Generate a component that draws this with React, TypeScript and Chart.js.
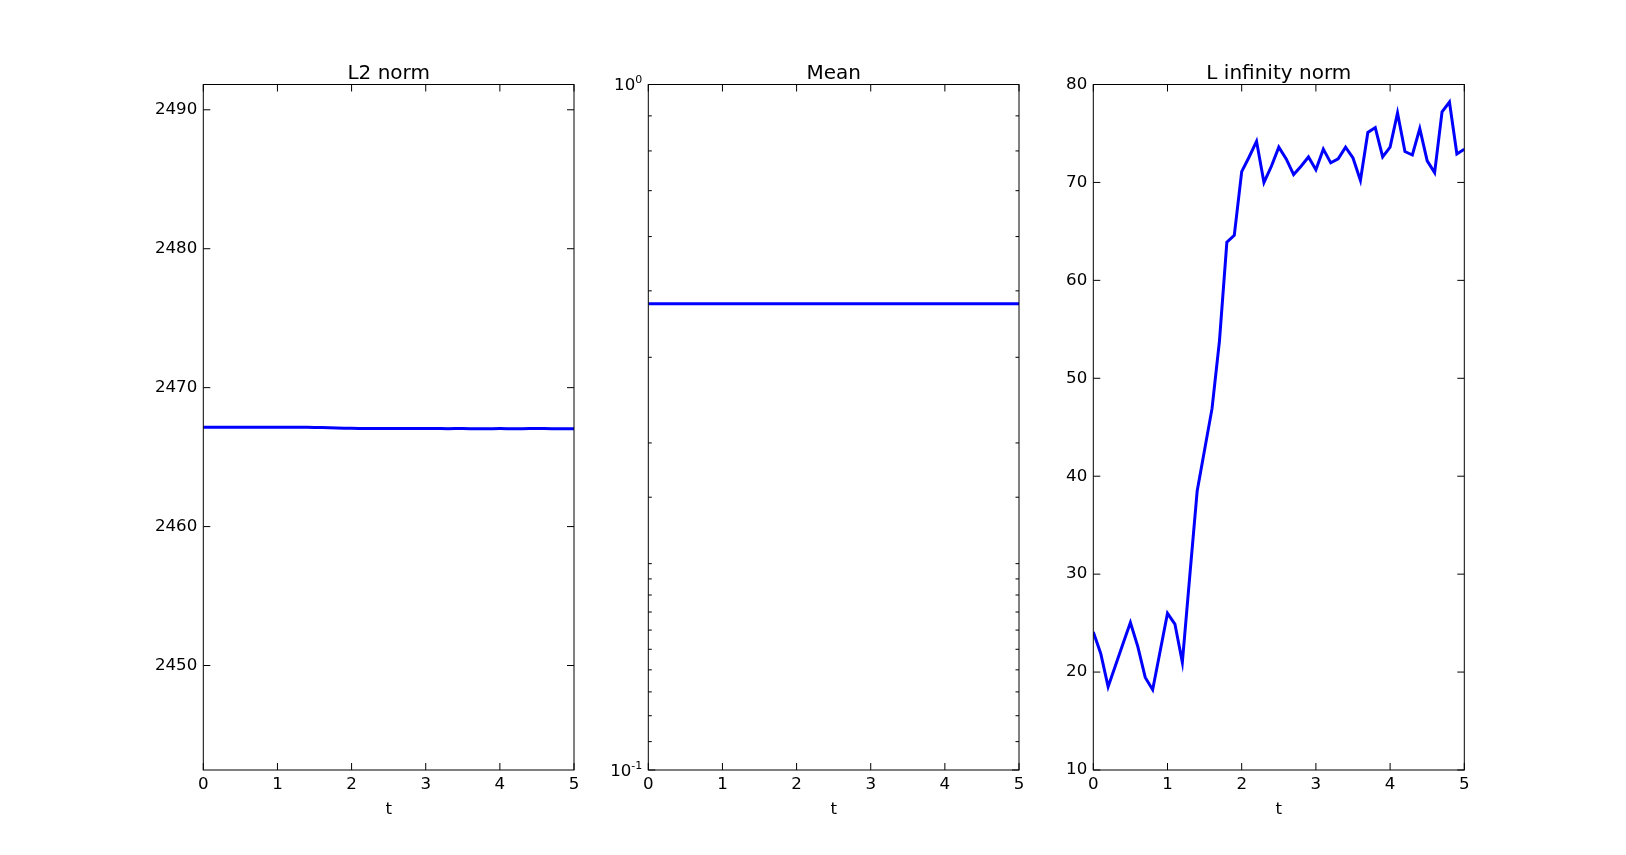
import React, { useEffect, useRef } from "react";
import { Chart, registerables } from "chart.js";

Chart.register(...registerables);

// ---- data ----
const tValues = [
  0, 0.1, 0.2, 0.3, 0.4, 0.5, 0.6, 0.7, 0.8, 0.9,
  1.0, 1.1, 1.2, 1.3, 1.4, 1.5, 1.6, 1.7, 1.8, 1.9,
  2.0, 2.1, 2.2, 2.3, 2.4, 2.5, 2.6, 2.7, 2.8, 2.9,
  3.0, 3.1, 3.2, 3.3, 3.4, 3.5, 3.6, 3.7, 3.8, 3.9,
  4.0, 4.1, 4.2, 4.3, 4.4, 4.5, 4.6, 4.7, 4.8, 4.9, 5.0,
];

const l2Values = [
  2467.15, 2467.15, 2467.15, 2467.15, 2467.15, 2467.15, 2467.15, 2467.15, 2467.15, 2467.15,
  2467.15, 2467.15, 2467.15, 2467.15, 2467.145, 2467.14, 2467.13, 2467.11, 2467.09, 2467.08,
  2467.07, 2467.065, 2467.06, 2467.06, 2467.06, 2467.055, 2467.06, 2467.06, 2467.06, 2467.055,
  2467.055, 2467.055, 2467.055, 2467.05, 2467.055, 2467.06, 2467.05, 2467.05, 2467.05, 2467.05,
  2467.055, 2467.05, 2467.05, 2467.05, 2467.055, 2467.055, 2467.06, 2467.05, 2467.05, 2467.05, 2467.05,
];

const meanValues = [
  0.479, 0.479, 0.479, 0.479, 0.479, 0.479, 0.479, 0.479, 0.479, 0.479,
  0.479, 0.479, 0.479, 0.479, 0.479, 0.479, 0.479, 0.479, 0.479, 0.479,
  0.479, 0.479, 0.479, 0.479, 0.479, 0.479, 0.479, 0.479, 0.479, 0.479,
  0.479, 0.479, 0.479, 0.479, 0.479, 0.479, 0.479, 0.479, 0.479, 0.479,
  0.479, 0.479, 0.479, 0.479, 0.479, 0.479, 0.479, 0.479, 0.479, 0.479, 0.479,
];

const linfValues = [
  24.1, 21.9, 18.5, 20.7, 22.9, 25.05, 22.6, 19.45, 18.2, 22.1,
  26.0, 24.9, 21.0, 29.8, 38.5, 42.7, 46.9, 53.8, 63.9, 64.6,
  71.1, 72.6, 74.2, 70.0, 71.65, 73.6, 72.4, 70.8, 71.65, 72.6,
  71.3, 73.4, 72.0, 72.4, 73.6, 72.5, 70.2, 75.1, 75.6, 72.6,
  73.6, 77.1, 73.15, 72.8, 75.5, 72.2, 71.0, 77.2, 78.2, 72.9, 73.4,
];

const panelTitles = ["L2 norm", "Mean", "L infinity norm"];
const xTickLabels = ["0", "1", "2", "3", "4", "5"];
const l2Limits = [2442.48, 2491.82];
const meanLimits = [0.1, 1];
const linfLimits = [10, 80];
const logTickBase = "10";
const logTickExponents = [
  { value: 1, exp: "0" },
  { value: 0.1, exp: "-1" },
];

// ---- layout ----
const W = 1626;
const H = 855;
const FONT = "'DejaVu Sans', sans-serif";
const PANEL_LEFT = [203.3, 648.3, 1093.3];
const PANEL_RIGHT = [574, 1019, 1464.3];
const AX_TOP = 84.5;
const AX_BOTTOM = 770;
const YW = 100;
const X_BOTTOM = 820;
const TITLE_SIZE = 20;
const TITLE_LH = 1.05;
const TICK_SIZE = 16.67;
const SUP_SIZE = 11;
const MAJOR = 7;
const MINOR = 3.5;
const LABEL_GAP = 6;

const frameTicks = {
  id: "frameTicks",
  afterDatasetsDraw(chart: any) {
    const { ctx, chartArea: a, scales } = chart;
    const xs = scales.x;
    const ys = scales.y;
    ctx.save();
    ctx.strokeStyle = "#000";
    ctx.lineWidth = 1;
    ctx.beginPath();
    xs.ticks.forEach((t: any) => {
      const px = xs.getPixelForValue(t.value);
      ctx.moveTo(px, a.bottom);
      ctx.lineTo(px, a.bottom - MAJOR);
      ctx.moveTo(px, a.top);
      ctx.lineTo(px, a.top + MAJOR);
    });
    ys.ticks.forEach((t: any) => {
      const py = ys.getPixelForValue(t.value);
      let len = MAJOR;
      if (ys.type === "logarithmic") {
        const lg = Math.log10(t.value);
        if (Math.abs(lg - Math.round(lg)) > 1e-6) len = MINOR;
      }
      ctx.moveTo(a.left, py);
      ctx.lineTo(a.left + len, py);
      ctx.moveTo(a.right, py);
      ctx.lineTo(a.right - len, py);
    });
    ctx.stroke();
    ctx.strokeRect(a.left, a.top, a.right - a.left, a.bottom - a.top);

    // power-of-ten labels for the log axis (base + superscript exponent)
    if (ys.type === "logarithmic") {
      ctx.fillStyle = "#000";
      ctx.textBaseline = "alphabetic";
      ctx.textAlign = "right";
      logTickExponents.forEach((item) => {
        const py = ys.getPixelForValue(item.value);
        const baseY = py + 5.9;
        const right = a.left - LABEL_GAP;
        ctx.font = `${SUP_SIZE}px ${FONT}`;
        const supW = ctx.measureText(item.exp).width;
        ctx.fillText(item.exp, right, baseY - 7);
        ctx.font = `${TICK_SIZE}px ${FONT}`;
        ctx.fillText(logTickBase, right - supW, baseY);
      });
    }
    ctx.restore();
  },
};

const tickFont = { family: FONT, size: TICK_SIZE };

function makeConfig(i: number, values: number[], yScale: any) {
  return {
    type: "line",
    data: {
      datasets: [
        {
          data: tValues.map((t, k) => ({ x: t, y: values[k] })),
          borderColor: "#0000ff",
          borderWidth: 3,
          pointRadius: 0,
          tension: 0,
          fill: false,
          yAxisID: "y",
        },
      ],
    },
    options: {
      animation: false,
      responsive: false,
      events: [],
      layout: {
        padding: {
          left: PANEL_LEFT[i] - YW,
          right: W - PANEL_RIGHT[i] - YW,
          top: AX_TOP - TITLE_SIZE * TITLE_LH,
          bottom: H - X_BOTTOM,
        },
      },
      plugins: {
        legend: { display: false },
        tooltip: { enabled: false },
        title: {
          display: true,
          text: panelTitles[i],
          color: "#000",
          font: { family: FONT, size: TITLE_SIZE, weight: "normal", lineHeight: TITLE_LH },
          padding: { top: 0, bottom: 0 },
        },
      },
      scales: {
        x: {
          type: "linear",
          min: 0,
          max: 5,
          grid: { display: false, drawTicks: false },
          border: { display: false },
          ticks: {
            stepSize: 1,
            padding: 5,
            color: "#000",
            font: tickFont,
            maxRotation: 0,
            autoSkip: false,
            callback: (v: number) => xTickLabels[Math.round(v)] ?? "",
          },
          title: {
            display: true,
            text: "t",
            color: "#000",
            font: { family: FONT, size: TICK_SIZE },
            padding: { top: 0, bottom: 0 },
          },
          afterFit: (s: any) => {
            s.height = X_BOTTOM - AX_BOTTOM;
          },
        },
        y: {
          ...yScale,
          position: "left",
          grid: { display: false, drawTicks: false },
          border: { display: false },
          afterFit: (s: any) => {
            s.width = YW;
          },
        },
        yRight: {
          type: "linear",
          position: "right",
          display: true,
          grid: { display: false, drawTicks: false },
          border: { display: false },
          ticks: { display: false },
          afterFit: (s: any) => {
            s.width = YW;
          },
        },
      },
    },
    plugins: [frameTicks],
  };
}

const yScales = [
  {
    type: "linear",
    min: l2Limits[0],
    max: l2Limits[1],
    ticks: {
      stepSize: 10,
      includeBounds: false,
      padding: LABEL_GAP,
      color: "#000",
      font: tickFont,
      autoSkip: false,
      callback: (v: number) => String(Math.round(v)),
    },
  },
  {
    type: "logarithmic",
    min: meanLimits[0],
    max: meanLimits[1],
    ticks: {
      padding: LABEL_GAP,
      color: "#000",
      font: tickFont,
      autoSkip: false,
      callback: () => "",
    },
  },
  {
    type: "linear",
    min: linfLimits[0],
    max: linfLimits[1],
    ticks: {
      stepSize: 10,
      padding: LABEL_GAP,
      color: "#000",
      font: tickFont,
      autoSkip: false,
      callback: (v: number) => String(Math.round(v)),
    },
  },
];

const seriesList = [l2Values, meanValues, linfValues];

function Panel({ index }: { index: number }) {
  const ref = useRef<HTMLCanvasElement | null>(null);
  useEffect(() => {
    if (!ref.current) return;
    const chart = new Chart(ref.current, makeConfig(index, seriesList[index], yScales[index]) as any);
    return () => chart.destroy();
  }, [index]);
  return (
    <canvas
      ref={ref}
      width={W}
      height={H}
      style={{ position: "absolute", left: 0, top: 0, width: W, height: H }}
    />
  );
}

export default function App() {
  return (
    <div
      style={{
        position: "fixed",
        left: 0,
        top: 0,
        width: W,
        height: H,
        background: "#fff",
        overflow: "hidden",
      }}
    >
      <Panel index={0} />
      <Panel index={1} />
      <Panel index={2} />
    </div>
  );
}
